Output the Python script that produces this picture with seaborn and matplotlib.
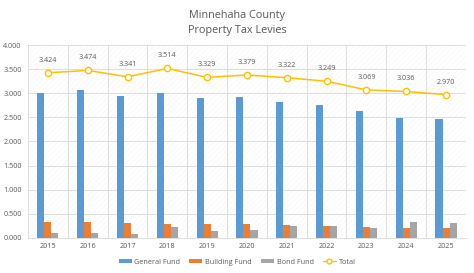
import matplotlib
matplotlib.use("Agg")
import matplotlib.pyplot as plt
import seaborn as sns
import pandas as pd
import numpy as np
from matplotlib.lines import Line2D
from matplotlib.patches import Patch

years = ["2015", "2016", "2017", "2018", "2019", "2020", "2021", "2022", "2023", "2024", "2025"]
general_fund = [3.004, 3.064, 2.951, 3.004, 2.901, 2.931, 2.818, 2.764, 2.639, 2.496, 2.460]
building_fund = [0.330, 0.320, 0.305, 0.290, 0.278, 0.278, 0.264, 0.250, 0.230, 0.210, 0.205]
bond_fund = [0.090, 0.090, 0.085, 0.220, 0.150, 0.170, 0.240, 0.235, 0.200, 0.330, 0.305]
total = [3.424, 3.474, 3.341, 3.514, 3.329, 3.379, 3.322, 3.249, 3.069, 3.036, 2.970]
series_names = ["General Fund", "Building Fund", "Bond Fund"]
yticks = [0.0, 0.5, 1.0, 1.5, 2.0, 2.5, 3.0, 3.5, 4.0]

colors = ["#5B9BD5", "#ED7D31", "#A5A5A5"]
line_color = "#FFC000"
text_color = "#595959"

sns.set_style("white")
plt.rcParams['font.family'] = ['Open Sans', 'DejaVu Sans']
plt.rcParams['hatch.linewidth'] = 0.3

df = pd.DataFrame({
    "Year": years * 3,
    "Fund": sum([[n] * len(years) for n in series_names], []),
    "Value": general_fund + building_fund + bond_fund,
})
tdf = pd.DataFrame({"Year": years, "Total": total})

fig = plt.figure(figsize=(4.74, 2.73), dpi=100)
ax = fig.add_axes([0.059, 0.129, 0.924, 0.706])

ax.patch.set_facecolor("white")
ax.patch.set_hatch("//////")
ax.patch.set_edgecolor("#f4f4f4")

sns.barplot(data=df, x="Year", y="Value", hue="Fund", order=years,
            hue_order=series_names, palette=colors, width=0.53, gap=0,
            saturation=1, ax=ax, legend=False, zorder=3, linewidth=0)
sns.pointplot(data=tdf, x="Year", y="Total", order=years, color=line_color,
              markers="o", ax=ax, markerfacecolor="white",
              markeredgecolor=line_color, markersize=4.5, markeredgewidth=1.0,
              linewidth=1.1, zorder=5)

for i, v in enumerate(total):
    ax.annotate(f"{v:.3f}", (i, v), xytext=(0, 6.5), textcoords="offset points",
                ha="center", va="bottom", fontsize=5.2, color=text_color, zorder=6)

ax.set_xlim(-0.5, len(years) - 0.5)
ax.set_ylim(0, 4.0)
ax.set_yticks(yticks)
ax.set_yticklabels([f"{t:.3f}" for t in yticks])
ax.set_xticks(np.arange(-0.5, len(years), 1.0), minor=True)
ax.grid(axis="y", which="major", color="#d9d9d9", linewidth=0.6, zorder=0)
ax.grid(axis="x", which="minor", color="#d9d9d9", linewidth=0.6, zorder=0)
ax.set_axisbelow(True)
ax.tick_params(axis="both", which="both", length=0, labelsize=5.2,
               labelcolor=text_color)
ax.tick_params(axis="y", pad=4.5)
ax.tick_params(axis="x", pad=4.0)
ax.set_xlabel("")
ax.set_ylabel("")
for s in ax.spines.values():
    s.set_visible(False)
ax.spines["bottom"].set_visible(True)
ax.spines["bottom"].set_color("#d9d9d9")
ax.spines["bottom"].set_linewidth(0.6)

fig.text(0.5, 0.945, "Minnehaha County", ha="center", va="center",
         fontsize=7.8, color=text_color)
fig.text(0.5, 0.89, "Property Tax Levies", ha="center", va="center",
         fontsize=7.8, color=text_color)

handles = [Patch(facecolor=c, edgecolor="none") for c in colors]
handles.append(Line2D([0], [0], color=line_color, marker="o",
                      markerfacecolor="white", markeredgecolor=line_color,
                      markersize=3.5, linewidth=1.0))
fig.legend(handles, series_names + ["Total"], loc="center",
           bbox_to_anchor=(0.5, 0.04), ncol=4, frameon=False, fontsize=5.2,
           handlelength=1.8, handleheight=0.3, handletextpad=0.35,
           columnspacing=1.3, labelcolor=text_color)

fig.savefig("out.png", dpi=100)
